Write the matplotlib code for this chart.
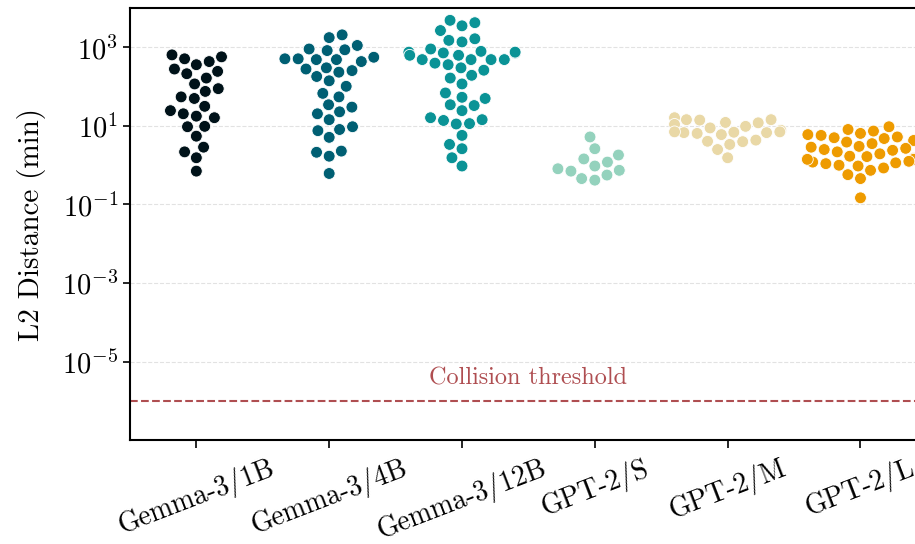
import numpy as np
import pandas as pd
import matplotlib
matplotlib.use("Agg")
import matplotlib.pyplot as plt
import seaborn as sns

plt.rcParams["font.family"] = "serif"
plt.rcParams["font.serif"] = ["cmr10"]
plt.rcParams["mathtext.fontset"] = "cm"
plt.rcParams["axes.unicode_minus"] = False
plt.rcParams["axes.formatter.use_mathtext"] = True

models = ["Gemma-3/1B", "Gemma-3/4B", "Gemma-3/12B", "GPT-2/S", "GPT-2/M", "GPT-2/L"]
colors = ["#001219", "#005f73", "#0a9396", "#94d2bd", "#e9d8a6", "#ee9b00"]

# log10 of the minimum L2 distance per prompt
gemma_1b = [2.81, 2.64, 2.71, 2.76, 2.56, 2.45, 2.39, 2.33, 2.22, 2.07, 1.95, 1.88, 1.74,
            1.70, 1.50, 1.39, 1.31, 1.25, 1.21, 0.98, 0.99, 0.74, 0.46, 0.34, 0.19, -0.15]
gemma_4b = [3.25, 3.32, 3.05, 2.94, 2.92, 2.96, 2.71, 2.69, 2.64, 2.69, 2.75, 2.71, 2.45,
            2.37, 2.41, 2.48, 2.26, 2.15, 2.01, 1.83, 1.74, 1.54, 1.36, 1.48, 1.31, 1.16,
            0.88, 0.91, 0.98, 0.71, 0.33, 0.23, 0.36, -0.21]
gemma_12b = [3.63, 3.43, 3.55, 3.69, 3.18, 3.14, 3.22, 2.96, 2.86, 2.86, 2.90, 2.69, 2.60,
             2.56, 2.48, 2.69, 2.69, 2.69, 2.22, 2.07, 2.29, 2.42, 1.73, 1.52, 1.70, 1.54,
             1.84, 1.39, 1.16, 1.06, 1.05, 1.14, 1.21, 0.76, 0.53, 0.42, 0.19, -0.02,
             2.88, 2.80, 2.88, 2.80]
gpt2_s = [0.72, 0.42, 0.16, 0.26, 0.08, -0.02, -0.09, -0.15, -0.13, -0.25, -0.34, -0.38]
gpt2_m = [1.16, 1.16, 0.95, 1.08, 1.15, 1.09, 1.21, 0.83, 0.81, 0.78, 0.84, 0.89, 0.83,
          0.60, 0.53, 0.61, 0.64, 0.40, 0.19, 0.99, 0.85, 1.04, 0.85]
gpt2_l = [0.81, 0.76, 0.70, 0.63, 0.98, 0.87, 0.91, 0.68, 0.72, 0.78, 0.46, 0.40, 0.34,
          0.55, 0.59, 0.38, 0.43, 0.48, 0.17, 0.15, 0.08, 0.04, 0.00, 0.22, 0.29, 0.15,
          -0.02, -0.07, 0.06, 0.10, 0.23, 0.15, -0.13, -0.24, -0.34, -0.83]

threshold = 1e-6

series = [gemma_1b, gemma_4b, gemma_12b, gpt2_s, gpt2_m, gpt2_l]
df = pd.DataFrame({
    "model": np.repeat(models, [len(s) for s in series]),
    "dist": 10 ** np.concatenate([np.array(s, dtype=float) for s in series]),
})

fig = plt.figure(figsize=(9.15, 5.44), dpi=100)
ax = fig.add_axes([0.142, 0.191, 0.871, 0.794])
ax.set_yscale("log")

sns.swarmplot(data=df, x="model", y="dist", hue="model", order=models,
              hue_order=models, palette=colors, size=8.5, edgecolor="white",
              linewidth=0.6, legend=False, ax=ax)

ax.axhline(threshold, color="#9b2226", alpha=0.8, linestyle="--", linewidth=1.5)
ax.text(2.5, 3.8e-6, "Collision threshold", color="#9b2226", alpha=0.8,
        ha="center", va="center", fontsize=17.5)

ax.set_ylim(1e-7, 1e4)
ax.set_xlim(-0.5, 5.5)
ax.set_yticks([1e-5, 1e-3, 1e-1, 1e1, 1e3])
ax.yaxis.set_minor_locator(matplotlib.ticker.NullLocator())
ax.grid(axis="y", linestyle="--", color="#d0d0d0", alpha=0.6, linewidth=0.8)
ax.set_axisbelow(True)

ax.set_xlabel("")
ax.set_ylabel("L2 Distance (min)", fontsize=21, labelpad=11)
ax.tick_params(axis="y", labelsize=20.5, length=5, width=1.2)
ax.tick_params(axis="x", labelsize=20, length=6, width=1.2, pad=4)
plt.setp(ax.get_xticklabels(), rotation=21, ha="center")
for sp in ax.spines.values():
    sp.set_linewidth(1.5)

fig.savefig("out.png", dpi=100)
plt.close(fig)
